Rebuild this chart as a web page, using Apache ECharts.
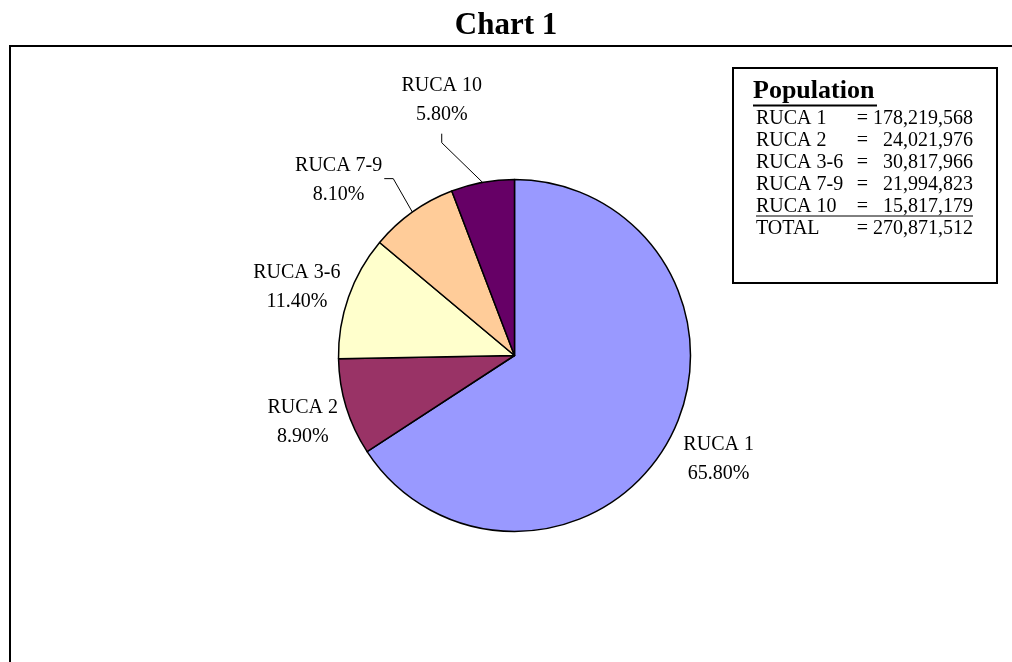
<!DOCTYPE html>
<html>
<head>
<meta charset="utf-8">
<script src="https://cdn.jsdelivr.net/npm/echarts@6/dist/echarts.min.js"></script>
<style>
html,body{margin:0;padding:0;background:#fff;}
#chart{width:1012px;height:662px;}
</style>
</head>
<body>
<div id="chart"></div>
<script>
// ---- data ----
const categories = ['RUCA 1', 'RUCA 2', 'RUCA 3-6', 'RUCA 7-9', 'RUCA 10'];
const shares = [65.8, 8.9, 11.4, 8.1, 5.8];               // percent of population
const populations = [178219568, 24021976, 30817966, 21994823, 15817179];
const totalPopulation = 270871512;
const legendTitle = 'Population';
const chartTitle = 'Chart 1';

// ---- styling / layout ----
const colors = ['#9999FF', '#993366', '#FFFFCC', '#FFCC99', '#660066'];
const CX = 514.5, CY = 355.5, R = 176;
const FONT = '"Liberation Serif", "Times New Roman", serif';
// label placement: distance from pie centre, angular shift (deg), leader-line type
const labelPlace = [
  {dist: 229, turn: -1.5, lead: null},
  {dist: 222, turn: -0.4, lead: null},
  {dist: 228, turn: -2.1, lead: null},
  {dist: 248, turn: -9.7, lead: 'right'},
  {dist: 265, turn: -5.5, lead: 'below'}
];

const totalShare = shares.reduce((a, b) => a + b, 0);
const midAngles = [];
{
  let acc = 0;
  shares.forEach(v => { midAngles.push((acc + v / 2) / totalShare * 360); acc += v; });
}
const rad = d => d * Math.PI / 180;

const pieData = categories.map((c, i) => ({
  name: c,
  value: shares[i],
  itemStyle: {color: colors[i]},
  labelLine: {show: !!labelPlace[i].lead}
}));

// ---- legend box text ----
const fmt = n => n.toLocaleString('en-US');
const maxLen = fmt(totalPopulation).length;
const legendRows = categories.map((c, i) => ({label: c, value: populations[i]}))
  .concat([{label: 'TOTAL', value: totalPopulation}]);

const LX = 756, RX = 973, ROW0 = 119, ROWH = 22;
const graphics = [
  {type: 'rect', shape: {x: 10, y: 46, width: 1020, height: 640},
   style: {fill: 'none', stroke: '#000', lineWidth: 2}, silent: true},
  {type: 'rect', shape: {x: 733, y: 68, width: 264, height: 215},
   style: {fill: '#fff', stroke: '#000', lineWidth: 2}, silent: true},
  {type: 'text', style: {text: legendTitle, x: 753, y: 104, font: 'bold 26px ' + FONT,
   fill: '#000', textAlign: 'left', textVerticalAlign: 'bottom'}, silent: true},
  {type: 'line', shape: {x1: 753, y1: 105.5, x2: 877, y2: 105.5},
   style: {stroke: '#000', lineWidth: 2}, silent: true}
];
legendRows.forEach((r, k) => {
  const y = ROW0 + k * ROWH;
  const v = fmt(r.value);
  const pad = ' '.repeat((maxLen - v.length) * 2);
  graphics.push({type: 'text', style: {text: r.label, x: LX, y: y, font: '20px ' + FONT,
    fill: '#000', textAlign: 'left', textVerticalAlign: 'middle'}, silent: true});
  graphics.push({type: 'text', style: {text: '= ' + pad + v, x: RX, y: y, font: '20px ' + FONT,
    fill: '#000', textAlign: 'right', textVerticalAlign: 'middle'}, silent: true});
  if (k === categories.length - 1) {
    graphics.push({type: 'line', shape: {x1: LX, y1: y + 9, x2: RX, y2: y + 9},
      style: {stroke: '#000', lineWidth: 1}, silent: true});
  }
});

const chart = echarts.init(document.getElementById('chart'), null, {renderer: 'canvas'});
chart.setOption({
  animation: false,
  backgroundColor: '#fff',
  title: {
    text: chartTitle, left: 'center', top: 5,
    textStyle: {fontFamily: FONT, fontWeight: 'bold', fontSize: 31, color: '#000'}
  },
  graphic: graphics,
  series: [{
    type: 'pie',
    center: [CX, CY],
    radius: R,
    startAngle: 90,
    clockwise: true,
    avoidLabelOverlap: false,
    silent: true,
    emphasis: {disabled: true},
    data: pieData,
    itemStyle: {borderColor: '#000', borderWidth: 1.5},
    label: {
      show: true, position: 'outside',
      formatter: p => p.name + '\n' + p.value.toFixed(2) + '%',
      fontFamily: FONT, fontSize: 20, color: '#000', lineHeight: 29
    },
    labelLine: {show: true, length: 10, length2: 10, smooth: false,
      lineStyle: {color: '#000', width: 1}},
    labelLayout: function (params) {
      const i = params.dataIndex;
      const pl = labelPlace[i];
      const a = rad(midAngles[i] + pl.turn);
      const x = CX + pl.dist * Math.sin(a);
      const y = CY - pl.dist * Math.cos(a);
      const w = params.labelRect.width, h = params.labelRect.height;
      const m = rad(midAngles[i]);
      const edge = [CX + R * Math.sin(m), CY - R * Math.cos(m)];
      const out = {x: x, y: y, align: 'center', verticalAlign: 'middle'};
      if (pl.lead === 'right') {
        out.labelLinePoints = [edge, [x + w / 2 + 11, y - 2], [x + w / 2 + 2, y - 2]];
      } else if (pl.lead === 'below') {
        out.labelLinePoints = [edge, [x, y + h / 2 + 13], [x, y + h / 2 + 4]];
      }
      return out;
    }
  }]
});
</script>
</body>
</html>
